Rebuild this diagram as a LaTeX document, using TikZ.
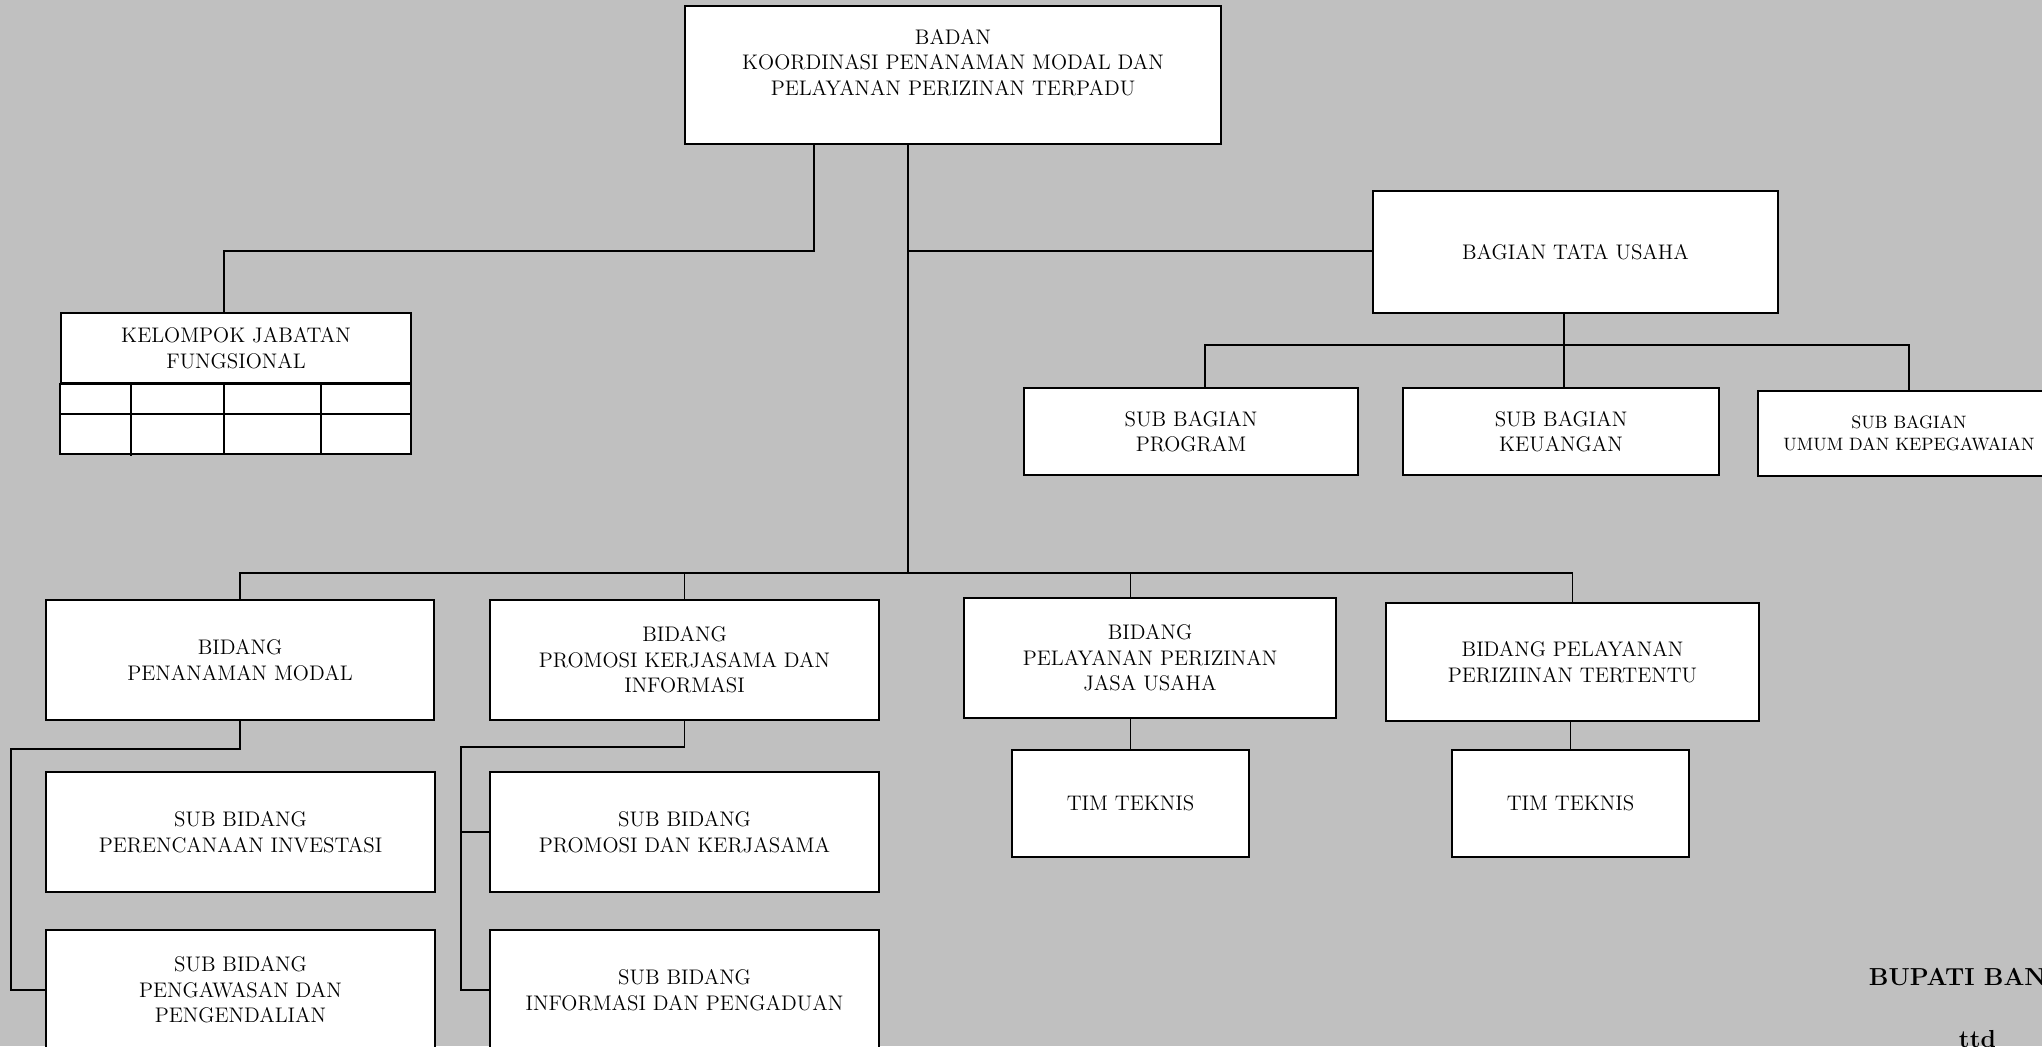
\documentclass[tikz,border=0pt]{standalone}
\usepackage{tikz}
\definecolor{chartgray}{RGB}{192,192,192}

\begin{document}
\begin{tikzpicture}[x=0.02cm, y=-0.02cm, line width=1.1pt,
  unit/.style={draw, fill=white, align=center, inner sep=2pt, font=\fontsize{12}{14.5}\selectfont},
  smallunit/.style={unit, font=\fontsize{10.2}{12.5}\selectfont},
  sign/.style={anchor=base west, inner sep=0pt, font=\fontsize{14}{16}\selectfont\bfseries}]
\useasboundingbox (0,0) rectangle (2042,1046);
\clip (0,0) rectangle (2042,1046);
\fill[chartgray] (0,0) rectangle (2042,1046);
\node[unit, minimum width=10.72cm, minimum height=2.76cm] (badan) at (953,75) {BADAN\\KOORDINASI PENANAMAN MODAL DAN\\PELAYANAN PERIZINAN TERPADU\\\mbox{}};
\node[unit, minimum width=7cm, minimum height=1.4cm] (kjf) at (236,348) {KELOMPOK JABATAN\\FUNGSIONAL};
\draw[fill=white] (kjf.south west) rectangle (411,454);
\draw (61,414) -- (411,414);
\foreach \x/\y in {131/456, 224/454, 321/454}
  \draw (\x,383) -- (\x,\y);
\node[unit, minimum width=8.1cm, minimum height=2.44cm] (tu) at (1575.5,252) {BAGIAN TATA USAHA};
\node[unit, minimum width=6.68cm, minimum height=1.74cm] (sbprog) at (1191,431.5) {SUB BAGIAN\\PROGRAM};
\node[unit, minimum width=6.32cm, minimum height=1.74cm] (sbkeu) at (1561,431.5) {SUB BAGIAN\\KEUANGAN};
\node[smallunit, minimum width=6.04cm, minimum height=1.7cm] (sbumum) at (1909,433.5) {SUB BAGIAN\\UMUM DAN KEPEGAWAIAN};
\node[unit, minimum width=7.76cm, minimum height=2.4cm] (bpm) at (240,660) {BIDANG\\PENANAMAN MODAL};
\node[unit, minimum width=7.78cm, minimum height=2.4cm] (bpk) at (684.5,660) {BIDANG\\PROMOSI KERJASAMA DAN\\INFORMASI};
\node[unit, minimum width=7.44cm, minimum height=2.4cm] (bpj) at (1150,658) {BIDANG\\PELAYANAN PERIZINAN\\JASA USAHA};
\node[unit, minimum width=7.46cm, minimum height=2.36cm] (bpt) at (1572.5,662) {BIDANG PELAYANAN\\PERIZIINAN TERTENTU};
\node[unit, minimum width=4.74cm, minimum height=2.14cm] (timj) at (1130.5,803.5) {TIM TEKNIS};
\node[unit, minimum width=4.74cm, minimum height=2.14cm] (timt) at (1570.5,803.5) {TIM TEKNIS};
\node[unit, minimum width=7.78cm, minimum height=2.4cm] (sbpi) at (240.5,832) {SUB BIDANG\\PERENCANAAN INVESTASI};
\node[unit, minimum width=7.78cm, minimum height=2.4cm] (sbpd) at (240.5,990) {SUB BIDANG\\PENGAWASAN DAN\\PENGENDALIAN};
\node[unit, minimum width=7.78cm, minimum height=2.4cm] (sbpk) at (684.5,832) {SUB BIDANG\\PROMOSI DAN KERJASAMA};
\node[unit, minimum width=7.78cm, minimum height=2.4cm] (sbid) at (684.5,990) {SUB BIDANG\\INFORMASI DAN PENGADUAN};
\node[sign] (bupati) at (1868,985) {BUPATI BANJAR};
\node[sign] (ttd) at (1958,1047) {ttd};
\coordinate (kj) at (814,251);
\coordinate (tj) at (908,251);
\coordinate (bj) at (908,573);
\coordinate (tuj) at (1564,345);
\coordinate (lj) at (11,749);
\coordinate (rj) at (461,747);
\draw (badan.south -| kj) -- (kj) -| ([xshift=-0.24cm]kjf.north);
\draw (badan.south -| bj) -- (bj);
\draw (tj) -- (tu.west |- tj);
\draw (tu.south -| tuj) -- (sbkeu.north -| tuj);
\draw ([xshift=0.28cm]sbprog.north) |- (tuj) -| (sbumum.north);
\draw (bpm.north) |- (bpt.north |- bj) -- (bpt.north);
\draw (bpk.north) -- (bpk.north |- bj);
\draw (bpj.north -| timj) -- (bj -| timj);
\draw (bpj.south -| timj) -- (timj.north);
\draw (bpt.south -| timt) -- (timt.north);
\draw (bpm.south) |- (lj) |- (sbpd.west);
\draw (bpk.south) |- (rj) |- (sbid.west);
\draw (rj |- sbpk.west) -- (sbpk.west);
\end{tikzpicture}
\end{document}
